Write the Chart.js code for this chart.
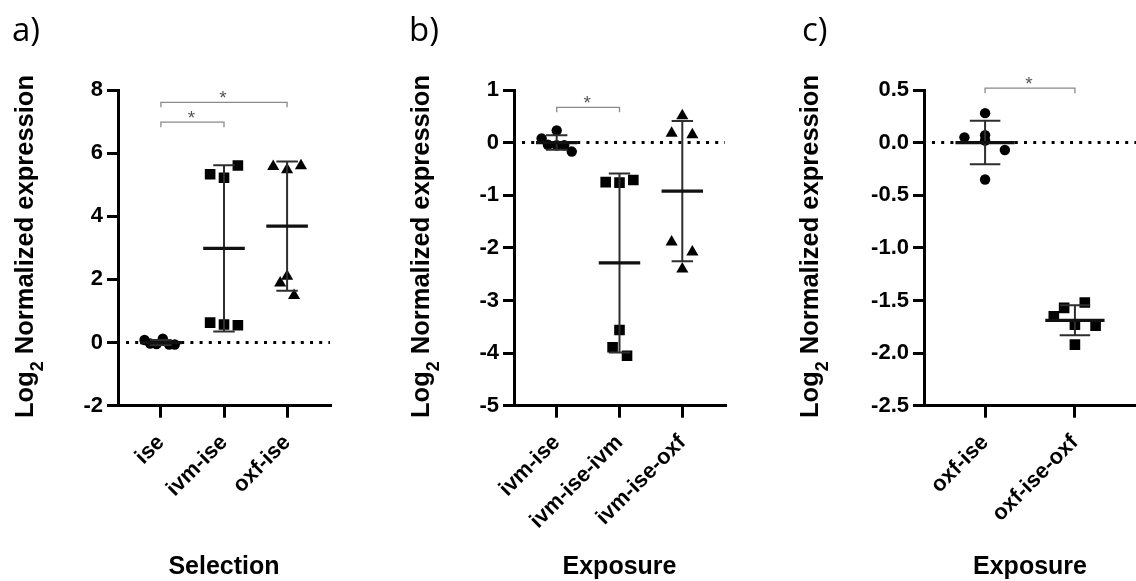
<!DOCTYPE html>
<html>
<head>
<meta charset="utf-8">
<script src="https://cdn.jsdelivr.net/npm/chart.js@4.4.1/dist/chart.umd.min.js"></script>
<style>
  html, body { margin: 0; padding: 0; background: #fff; }
  #wrap { position: relative; width: 1136px; height: 581px; overflow: hidden; }
  #wrap canvas { position: absolute; top: 0; }
</style>
</head>
<body>
<div id="wrap">
  <canvas id="chartA" width="380" height="581" style="left:0px"></canvas>
  <canvas id="chartB" width="380" height="581" style="left:380px"></canvas>
  <canvas id="chartC" width="376" height="581" style="left:760px"></canvas>
</div>
<script>
'use strict';
// ===================== data =====================
const catsA = ['ise', 'ivm-ise', 'oxf-ise'];
const catsB = ['ivm-ise', 'ivm-ise-ivm', 'ivm-ise-oxf'];
const catsC = ['oxf-ise', 'oxf-ise-oxf'];

// a) Selection – log2 values and horizontal scatter offsets (category units)
const aIse  = [0.08, -0.03, -0.05, 0.12, -0.06, -0.06];
const aIseX = [-0.26, -0.17, -0.07, 0.03, 0.13, 0.22];
const aIvm  = [5.33, 5.22, 5.61, 0.63, 0.57, 0.55];
const aIvmX = [-0.22, 0, 0.22, -0.22, 0, 0.22];
const aOxf  = [5.58, 5.47, 5.60, 2.10, 1.89, 1.49];
const aOxfX = [-0.22, 0, 0.22, 0, -0.11, 0.11];

// b) Exposure (ivm)
const bIvm     = [0.08, 0.23, -0.04, -0.05, -0.05, -0.17];
const bIvmX    = [-0.24, 0, -0.14, 0, 0.12, 0.24];
const bIvmIvm  = [-0.75, -0.76, -0.71, -3.56, -3.89, -4.05];
const bIvmIvmX = [-0.22, 0, 0.22, 0, -0.11, 0.12];
const bIvmOxf  = [0.51, 0.18, 0.15, -1.89, -2.08, -2.40];
const bIvmOxfX = [0, -0.17, 0.16, -0.17, 0.16, 0];

// c) Exposure (oxf)
const cOxf     = [0.28, 0.05, 0.07, 0.02, -0.07, -0.35];
const cOxfX    = [0, -0.23, 0, 0, 0.22, 0];
const cOxfOxf  = [-1.65, -1.57, -1.52, -1.73, -1.74, -1.92];
const cOxfOxfX = [-0.235, -0.12, 0.11, 0, 0.23, 0];

// significance brackets: [from category, to category, bracket height]
const sigA = [[0, 1, 6.98], [0, 2, 7.61]];
const sigB = [[0, 1, 0.67]];
const sigC = [[0, 1, 0.517]];

// y ticks: [min, max, step]
const yTicksA = [-2, 8, 2];
const yTicksB = [-5, 1, 1];
const yTicksC = [-2.5, 0.5, 0.5];

// ===================== helpers =====================
const FONT = '"Liberation Sans", Arial, sans-serif';

function mean(v) { return v.reduce((s, x) => s + x, 0) / v.length; }
function sd(v) {
    const m = mean(v);
    return Math.sqrt(v.reduce((s, x) => s + (x - m) ** 2, 0) / (v.length - 1));
}

function groupDataset(vals, offs, idx, style) {
    const r = style === 'rect' ? 7.5 : style === 'triangle' ? 7 : 5.2;
    return {
        data: vals.map((y, i) => ({ x: idx + offs[i], y })),
        pointStyle: style,
        pointRadius: r,
        pointBackgroundColor: '#000',
        pointBorderColor: '#000',
        pointBorderWidth: 0,
    };
}

function drawYTitle(ctx, x, yMid) {
    const big = 'bold 25.5px ' + FONT;
    const small = 'bold 18px ' + FONT;
    ctx.save();
    ctx.font = big;
    const w1 = ctx.measureText('Log').width;
    const w3 = ctx.measureText(' Normalized expression').width;
    ctx.font = small;
    const w2 = ctx.measureText('2').width;
    ctx.translate(x, yMid);
    ctx.rotate(-Math.PI / 2);
    ctx.fillStyle = '#000';
    ctx.textAlign = 'left';
    ctx.textBaseline = 'alphabetic';
    let cx = -(w1 + w2 + w3) / 2;
    ctx.font = big;   ctx.fillText('Log', cx, 0); cx += w1;
    ctx.font = small; ctx.fillText('2', cx, 10);  cx += w2;
    ctx.font = big;   ctx.fillText(' Normalized expression', cx, 0);
    ctx.restore();
}

function decoPlugin(p) {
    return {
        id: 'deco',
        beforeDatasetsDraw(chart) {
            const { ctx, chartArea, scales: { y } } = chart;
            const y0 = y.getPixelForValue(0);
            ctx.save();
            ctx.strokeStyle = '#000';
            ctx.lineWidth = 3;
            ctx.setLineDash([3, 6.2]);
            ctx.beginPath();
            ctx.moveTo(chartArea.left + 8, y0);
            ctx.lineTo(chartArea.right, y0);
            ctx.stroke();
            ctx.restore();
        },
        afterDatasetsDraw(chart) {
            const { ctx, scales: { x, y } } = chart;
            ctx.save();
            p.groups.forEach((g, i) => {
                const m = mean(g[0]), s = sd(g[0]);
                const yt = y.getPixelForValue(m + s), yb = y.getPixelForValue(m - s), ym = y.getPixelForValue(m);
                // SD bar
                ctx.strokeStyle = '#2e2e2e';
                ctx.lineWidth = 2;
                ctx.beginPath();
                ctx.moveTo(x.getPixelForValue(i), yt); ctx.lineTo(x.getPixelForValue(i), yb);
                ctx.moveTo(x.getPixelForValue(i - 0.17), yt); ctx.lineTo(x.getPixelForValue(i + 0.17), yt);
                ctx.moveTo(x.getPixelForValue(i - 0.17), yb); ctx.lineTo(x.getPixelForValue(i + 0.17), yb);
                ctx.stroke();
                // mean
                ctx.strokeStyle = '#111';
                ctx.lineWidth = 3.2;
                ctx.beginPath();
                ctx.moveTo(x.getPixelForValue(i - 0.33), ym); ctx.lineTo(x.getPixelForValue(i + 0.33), ym);
                ctx.stroke();
            });
            ctx.restore();
        },
        afterDraw(chart) {
            const { ctx, chartArea, scales: { x, y } } = chart;
            ctx.save();
            // significance brackets
            p.sig.forEach(([a, b, h]) => {
                const x1 = x.getPixelForValue(a), x2 = x.getPixelForValue(b), yy = y.getPixelForValue(h);
                ctx.strokeStyle = '#8a8a8a';
                ctx.lineWidth = 1.3;
                ctx.beginPath();
                ctx.moveTo(x1, yy + 5); ctx.lineTo(x1, yy); ctx.lineTo(x2, yy); ctx.lineTo(x2, yy + 5);
                ctx.stroke();
                ctx.fillStyle = '#555';
                ctx.font = '19px ' + FONT;
                ctx.textAlign = 'center';
                ctx.textBaseline = 'alphabetic';
                ctx.fillText('*', (x1 + x2) / 2 - 1, yy + 2);
            });
            // panel letter
            ctx.fillStyle = '#000';
            ctx.font = '33px "Open Sans", sans-serif';
            ctx.textAlign = 'left';
            ctx.textBaseline = 'alphabetic';
            ctx.fillText(p.letter, p.letterX, 41);
            // x title
            ctx.font = 'bold 25px ' + FONT;
            ctx.textAlign = 'center';
            ctx.fillText(p.xTitle, (chartArea.left + chartArea.right) / 2, 574);
            ctx.restore();
            drawYTitle(ctx, p.titleX, 246.5);
        }
    };
}

// ===================== panels =====================
const panels = [
    { id: 'chartA', letter: 'a)', xTitle: 'Selection', cats: catsA,
      groups: [[aIse, aIseX, 'circle'], [aIvm, aIvmX, 'rect'], [aOxf, aOxfX, 'triangle']],
      yTicks: yTicksA, decimals: 0, sig: sigA,
      padLeft: 48, padRight: 50, letterX: 12, titleX: 33 },
    { id: 'chartB', letter: 'b)', xTitle: 'Exposure', cats: catsB,
      groups: [[bIvm, bIvmX, 'circle'], [bIvmIvm, bIvmIvmX, 'rect'], [bIvmOxf, bIvmOxfX, 'triangle']],
      yTicks: yTicksB, decimals: 0, sig: sigB,
      padLeft: 64, padRight: 35, letterX: 29, titleX: 49 },
    { id: 'chartC', letter: 'c)', xTitle: 'Exposure', cats: catsC,
      groups: [[cOxf, cOxfX, 'circle'], [cOxfOxf, cOxfOxfX, 'rect']],
      yTicks: yTicksC, decimals: 1, sig: sigC,
      padLeft: 94, padRight: 0, letterX: 42, titleX: 58 },
];

panels.forEach(p => {
    const ctx = document.getElementById(p.id).getContext('2d');
    new Chart(ctx, {
        type: 'scatter',
        data: { datasets: p.groups.map((g, i) => groupDataset(g[0], g[1], i, g[2])) },
        plugins: [decoPlugin(p)],
        options: {
            responsive: false,
            animation: false,
            devicePixelRatio: 1,
            events: [],
            layout: {
                autoPadding: false,
                padding: { left: p.padLeft, right: p.padRight, top: 90, bottom: 25.3 }
            },
            plugins: { legend: { display: false }, tooltip: { enabled: false } },
            scales: {
                x: {
                    type: 'linear',
                    min: -0.68,
                    max: p.cats.length - 1 + 0.68,
                    afterFit: s => { s.height = 150; },
                    afterBuildTicks: s => { s.ticks = p.cats.map((c, i) => ({ value: i })); },
                    grid: { display: true, drawOnChartArea: false, drawTicks: true, tickLength: 12, lineWidth: 3, color: '#000' },
                    border: { display: true, width: 3, color: '#000' },
                    ticks: {
                        autoSkip: false, minRotation: 45, maxRotation: 45, padding: 12, color: '#000',
                        font: { family: FONT, size: 22, weight: 'bold' },
                        callback: v => p.cats[v]
                    }
                },
                y: {
                    type: 'linear',
                    min: p.yTicks[0],
                    max: p.yTicks[1],
                    afterFit: s => { s.width = 70; },
                    grid: { display: true, drawOnChartArea: false, drawTicks: true, tickLength: 11, lineWidth: 3, color: '#000' },
                    border: { display: true, width: 3, color: '#000' },
                    ticks: {
                        stepSize: p.yTicks[2], padding: 4, color: '#000',
                        font: { family: FONT, size: 22, weight: 'bold' },
                        callback: v => (Math.abs(v) < 1e-9 ? 0 : v).toFixed(p.decimals)
                    }
                }
            }
        }
    });
});
</script>
</body>
</html>
